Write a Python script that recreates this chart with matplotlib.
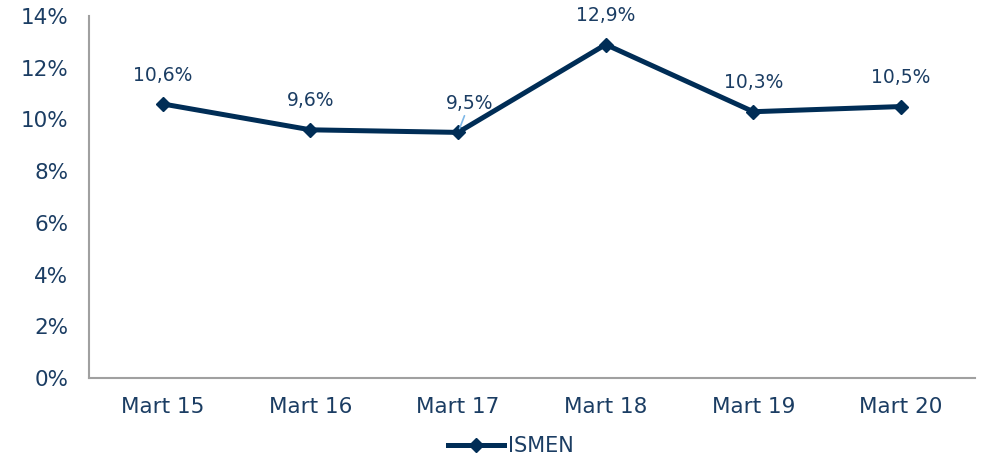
import matplotlib

matplotlib.use("Agg")
import matplotlib.pyplot as plt
from matplotlib.ticker import FuncFormatter

categories = ["Mart 15", "Mart 16", "Mart 17", "Mart 18", "Mart 19", "Mart 20"]
ismen = [10.6, 9.6, 9.5, 12.9, 10.3, 10.5]
labels = ["10,6%", "9,6%", "9,5%", "12,9%", "10,3%", "10,5%"]

navy = "#002D56"
text_col = "#1B3D63"

fig = plt.figure(figsize=(9.81, 4.59), dpi=100)
ax = fig.add_axes([0.0907, 0.1765, 0.903, 0.7885])

x = list(range(len(categories)))
ax.plot(x, ismen, color=navy, lw=3.6, marker="D", ms=7,
        solid_joinstyle="round", label="ISMEN")

for i, (v, lab) in enumerate(zip(ismen, labels)):
    if i == 2:
        # label nudged right, with a small leader line
        ax.annotate(lab, xy=(i, v), xytext=(8, 14), textcoords="offset points",
                    ha="center", va="bottom", fontsize=13.5, color=text_col,
                    arrowprops=dict(arrowstyle="-", color="#7FB8E8", lw=1.2,
                                    shrinkA=0, shrinkB=3))
    else:
        ax.annotate(lab, xy=(i, v), xytext=(0, 14), textcoords="offset points",
                    ha="center", va="bottom", fontsize=13.5, color=text_col)

ax.set_xlim(-0.5, 5.5)
ax.set_ylim(0, 14)
ax.set_yticks(range(0, 15, 2))
ax.yaxis.set_major_formatter(FuncFormatter(lambda v, p: f"{v:.0f}%"))
ax.set_xticks(x)
ax.set_xticklabels(categories)
ax.tick_params(axis="both", length=0, labelsize=15.5, labelcolor=text_col)
ax.tick_params(axis="x", pad=14)
ax.tick_params(axis="y", pad=15)

for s in ["top", "right"]:
    ax.spines[s].set_visible(False)
for s in ["left", "bottom"]:
    ax.spines[s].set_color("#A0A0A0")
    ax.spines[s].set_linewidth(1.5)

fig.legend(loc="lower center", bbox_to_anchor=(0.521, -0.035), frameon=False,
           fontsize=15, labelcolor=text_col, handlelength=2.7, handletextpad=0.2)

fig.savefig("out.png", dpi=100)
